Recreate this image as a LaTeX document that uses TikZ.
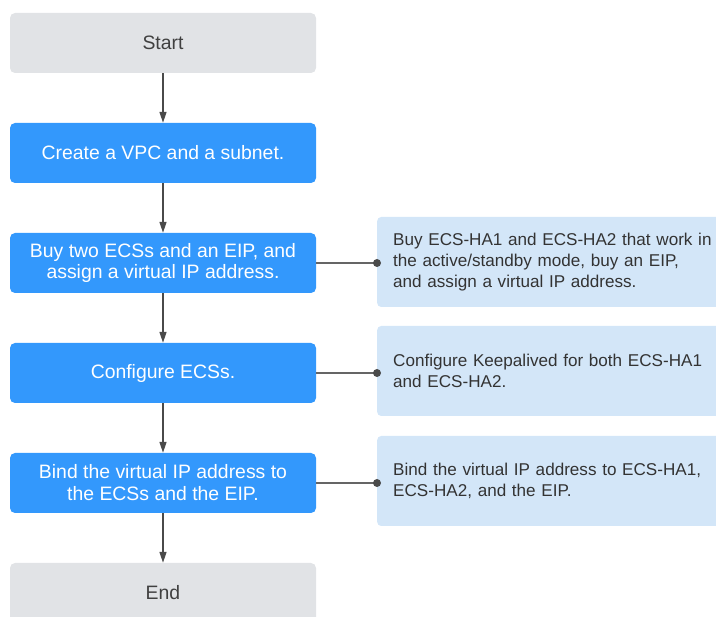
\documentclass[tikz,border=0pt]{standalone}
\usepackage{fontspec}
\setmainfont{Liberation Sans}
\usetikzlibrary{arrows.meta}
\definecolor{blueF}{HTML}{3398FC}
\definecolor{grayF}{HTML}{E1E3E6}
\definecolor{lightF}{HTML}{D3E6F8}
\definecolor{txtG}{HTML}{404040}
\definecolor{txtR}{HTML}{333333}
\definecolor{lineG}{HTML}{4A4A4A}
\tikzset{
  mainfont/.style={font=\fontsize{19.4}{21.9}\selectfont},
  termbox/.style={mainfont, fill=grayF, text=txtG, rounded corners=5pt, minimum width=306pt, minimum height=60pt, inner sep=0pt, align=center},
  stepbox/.style={mainfont, fill=blueF, text=white, rounded corners=5pt, minimum width=306pt, minimum height=60pt, inner sep=0pt, align=center},
  notebox/.style={font=\fontsize{17.1}{20.8}\selectfont, fill=lightF, text=txtR, rounded corners=4pt, minimum height=90pt, text width=330pt, inner xsep=16pt, inner ysep=0pt, align=left, anchor=west},
  flow/.style={draw=lineG, line width=1.3pt, -{Triangle[length=11pt,width=7pt]}},
  link/.style={draw=lineG!85, line width=1.8pt},
  dotmark/.style={fill=lineG}
}
\begin{document}
\begin{tikzpicture}[x=1pt,y=-1pt]
\useasboundingbox (0,0) rectangle (716,617);
\begin{scope}
\clip (0,0) rectangle (716,617);
\node[termbox] (start) at (163,43) {Start};
\node[stepbox] (s1) at (163,153) {Create a VPC and a subnet.};
\node[stepbox] (s2) at (163,263) {Buy two ECSs and an EIP, and\\assign a virtual IP address.};
\node[stepbox] (s3) at (163,373) {Configure ECSs.};
\node[stepbox] (s4) at (163,483) {Bind the virtual IP address to\\the ECSs and the EIP.};
\node[termbox] (end) at (163,593) {End};

\node[notebox] (n1) at (377,262) {Buy ECS-HA1 and ECS-HA2 that work in\\the active/standby mode, buy an EIP,\\and assign a virtual IP address.};
\node[notebox] (n2) at (377,371) {Configure Keepalived for both ECS-HA1\\and ECS-HA2.};
\node[notebox] (n3) at (377,481) {Bind the virtual IP address to ECS-HA1,\\ECS-HA2, and the EIP.};

\draw[flow] (start) -- (s1);
\draw[flow] (s1) -- (s2);
\draw[flow] (s2) -- (s3);
\draw[flow] (s3) -- (s4);
\draw[flow] (s4) -- (end);

\coordinate (d1) at (s2.east -| n1.west);
\coordinate (d2) at (s3.east -| n2.west);
\coordinate (d3) at (s4.east -| n3.west);
\draw[link] (s2.east) -- (d1);
\draw[link] (s3.east) -- (d2);
\draw[link] (s4.east) -- (d3);
\fill[dotmark] (d1) circle (4pt);
\fill[dotmark] (d2) circle (4pt);
\fill[dotmark] (d3) circle (4pt);
\end{scope}
\end{tikzpicture}
\end{document}
